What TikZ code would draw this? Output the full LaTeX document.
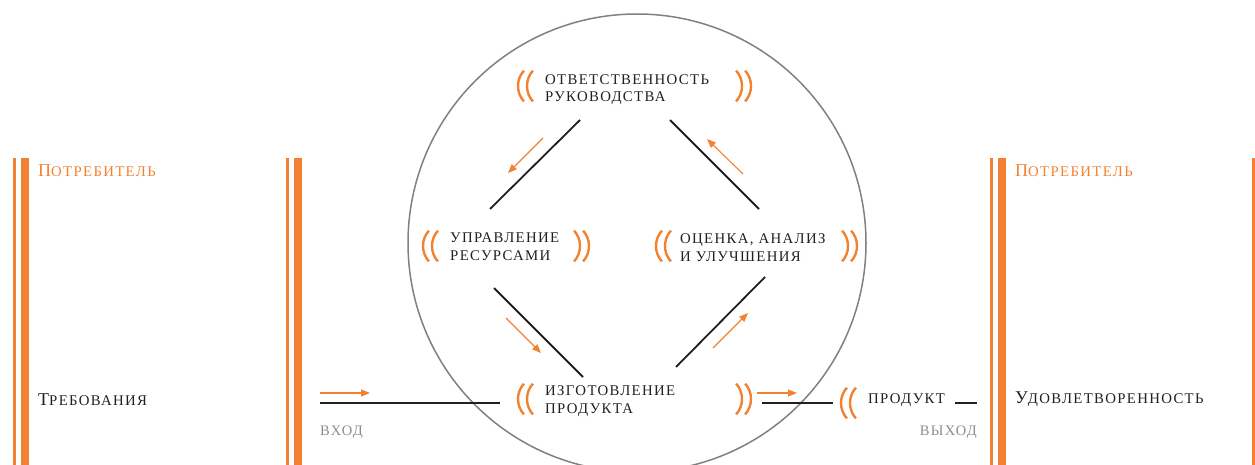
\documentclass[tikz,border=0pt]{standalone}
\usepackage{fontspec}
\setmainfont{Liberation Serif}
\newfontfamily\spaced[LetterSpace=9]{Liberation Serif}
\usetikzlibrary{arrows.meta}
\definecolor{orng}{HTML}{F28232}
\definecolor{ink}{HTML}{231F20}
\definecolor{ring}{HTML}{808080}
\definecolor{soft}{HTML}{8C8C8C}
\begin{document}
\begin{tikzpicture}[x=1pt,y=-1pt,
  bar/.style={fill=orng,draw=none},
  blk/.style={draw=ink,line width=1.8pt},
  flow/.style={draw=orng,line width=1.1pt,-{Triangle[length=9pt,width=7pt]}},
  paren/.style={draw=orng,line width=2.4pt},
  lbl/.style={anchor=base west,inner sep=0pt,text=ink,font=\spaced\fontsize{14.8}{18}\selectfont},
  big/.style={anchor=base west,inner sep=0pt,font=\spaced\fontsize{18}{20}\selectfont},
  note/.style={inner sep=0pt,text=soft,font=\spaced\fontsize{14.5}{18}\selectfont},
  opn/.pic={\draw[paren] (5.9,15.4) arc[start angle=138,end angle=222,radius=23];
            \draw[paren] (14.9,15.4) arc[start angle=138,end angle=222,radius=23];},
  cls/.pic={\draw[paren] (-5.9,15.4) arc[start angle=42,end angle=-42,radius=23];
            \draw[paren] (-14.9,15.4) arc[start angle=42,end angle=-42,radius=23];},
]
\useasboundingbox (0,0) rectangle (1255,465);

% orange bars
\fill[bar] (12.5,158) rectangle (15.5,465);
\fill[bar] (20.5,158) rectangle (28.5,465);
\fill[bar] (286,158) rectangle (289,465);
\fill[bar] (294,158) rectangle (302,465);
\fill[bar] (990,158) rectangle (993,465);
\fill[bar] (998,158) rectangle (1006,465);
\fill[bar] (1251.5,158) rectangle (1254.5,465);

% circle
\node[draw=ring,line width=1.5pt,circle,minimum size=458pt,inner sep=0pt] (ring) at (637,243) {};

% side texts
\node[big,text=orng] (cust1) at (38,177) {П\fontsize{14.8}{18}\selectfont ОТРЕБИТЕЛЬ};
\node[big,text=ink] (req) at (38,405) {Т\fontsize{14.8}{18}\selectfont РЕБОВАНИЯ};
\node[big,text=orng] (cust2) at (1015,177) {П\fontsize{14.8}{18}\selectfont ОТРЕБИТЕЛЬ};
\node[big,text=ink] (sat) at (1015,403) {У\fontsize{14.8}{18}\selectfont ДОВЛЕТВОРЕННОСТЬ};

% process labels
\node[lbl] (resp) at (545,85) {\begin{tabular}[t]{@{}l@{}}ОТВЕТСТВЕННОСТЬ\\[-1pt]РУКОВОДСТВА\end{tabular}};
\node[lbl] (res) at (450,242) {\begin{tabular}[t]{@{}l@{}}УПРАВЛЕНИЕ\\РЕСУРСАМИ\end{tabular}};
\node[lbl] (eval) at (680,243) {\begin{tabular}[t]{@{}l@{}}ОЦЕНКА, АНАЛИЗ\\И УЛУЧШЕНИЯ\end{tabular}};
\node[lbl] (make) at (545,395) {\begin{tabular}[t]{@{}l@{}}ИЗГОТОВЛЕНИЕ\\ПРОДУКТА\end{tabular}};
\node[lbl] (prod) at (868,403) {ПРОДУКТ};
\node[note,anchor=base west] (in) at (320,435) {ВХОД};
\node[note,anchor=base east] (out) at (977,435) {ВЫХОД};

% parentheses
\pic at (518,86) {opn};  \pic at (751,86) {cls};
\pic at (423,246) {opn}; \pic at (589,246) {cls};
\pic at (656,246) {opn}; \pic at (857,246) {cls};
\pic at (518,399) {opn}; \pic at (751,399) {cls};
\pic at (841,403) {opn};

% line end points
\coordinate (a1) at (580,120); \coordinate (a2) at (490,209);
\coordinate (b1) at (670,120); \coordinate (b2) at (759,209);
\coordinate (c1) at (494,288); \coordinate (c2) at (583,377);
\coordinate (d1) at (676,367); \coordinate (d2) at (765,277);
\coordinate (i1) at (320,403); \coordinate (i2) at (500,403);
\coordinate (o1) at (762,403); \coordinate (o2) at (833,403);
\coordinate (p1) at (955,403); \coordinate (p2) at (977,403);

\draw[blk] (a1) -- (a2);
\draw[blk] (b1) -- (b2);
\draw[blk] (c1) -- (c2);
\draw[blk] (d1) -- (d2);
\draw[blk] (i1) -- (i2);
\draw[blk] (o1) -- (o2);
\draw[blk] (p1) -- (p2);

% orange flow arrows
\coordinate (fa1) at (543,138); \coordinate (fa2) at (508,173);
\coordinate (fb1) at (743,174); \coordinate (fb2) at (707,139);
\coordinate (fc1) at (506,318); \coordinate (fc2) at (541,353);
\coordinate (fd1) at (713,348); \coordinate (fd2) at (748,313);
\coordinate (fi1) at (320,393); \coordinate (fi2) at (370,393);
\coordinate (fo1) at (757,393); \coordinate (fo2) at (797,393);
\draw[flow] (fa1) -- (fa2);
\draw[flow] (fb1) -- (fb2);
\draw[flow] (fc1) -- (fc2);
\draw[flow] (fd1) -- (fd2);
\draw[flow] (fi1) -- (fi2);
\draw[flow] (fo1) -- (fo2);
\end{tikzpicture}
\end{document}
